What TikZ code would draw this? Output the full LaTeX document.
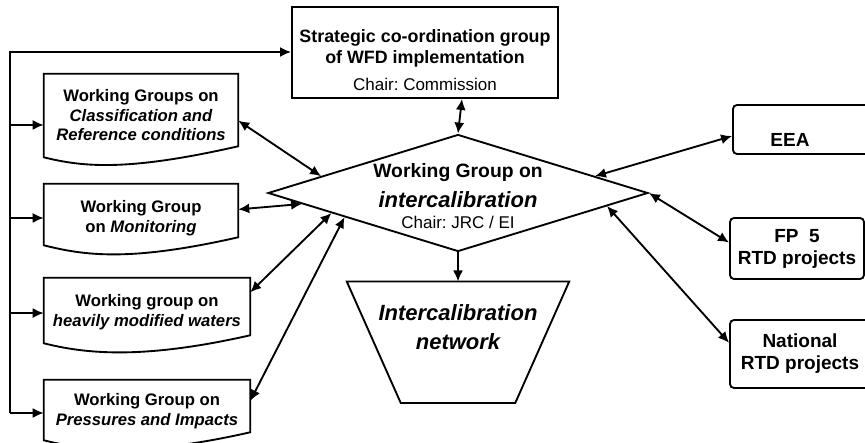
\documentclass[tikz,border=0pt]{standalone}
\usepackage{fontspec}
\setmainfont{Liberation Sans}
\usepackage{tikz}
\usetikzlibrary{positioning}
\usetikzlibrary{shapes,arrows.meta}
\frenchspacing
\tikzstyle{block} = [rectangle, draw, line width=1.4pt, text centered, align=center, inner sep=0pt]
\tikzstyle{doc} = [rectangle, text centered, align=center, inner sep=0pt,
                font=\fontsize{12.5}{14.6}\selectfont\bfseries]
\tikzstyle{partner} = [rectangle, draw, line width=1.4pt, rounded corners=3pt, align=center,
                inner sep=0pt, font=\fontsize{14.25}{16.5}\selectfont\bfseries]
\tikzstyle{decision} = [diamond, draw, line width=1.4pt, align=center, inner xsep=0pt,
                inner ysep=-18pt, shape aspect=3.25, minimum width=285pt, minimum height=87.75pt]
\tikzstyle{outline} = [draw, line width=1.4pt]
\tikzstyle{line} = [draw, line width=1.4pt, -{Latex[length=8.25pt,width=7.5pt]}]
\tikzstyle{twoway} = [draw, line width=1.4pt, {Latex[length=8.25pt,width=7.5pt]}-{Latex[length=8.25pt,width=7.5pt]}]

\begin{document}
\begin{tikzpicture}[x=0.75pt, y=-0.75pt]
\useasboundingbox (0,0) rectangle (865,443);
\node[block, minimum width=199.5pt, minimum height=68.25pt, text height=56.25pt, text depth=0pt,
  font=\fontsize{13.4}{16}\selectfont\bfseries] (sgc) at (425,52.5)
  {Strategic co-ordination group\\ of WFD implementation\\[4pt]
   {\fontsize{12.75}{15}\selectfont\mdseries Chair: Commission}};
\node[decision, text height=52.5pt, text depth=0pt, font=\fontsize{12.75}{14.25}\selectfont]
  (wgic) at (458,193)
  {{\fontsize{14.5}{17}\selectfont\bfseries Working Group on}\\[6pt]
   {\fontsize{16.5}{19}\selectfont\bfseries\itshape intercalibration}\\[1.5pt]
   Chair: JRC / EI};
\node[rectangle, align=center, inner sep=0pt, minimum width=166.5pt, minimum height=90.75pt,
  text height=11.25pt, text depth=0pt,
  font=\fontsize{16.5}{21.75}\selectfont\bfseries\itshape, below=21.75pt of wgic] (net)
  {Intercalibration\\ network};
\node[doc, minimum width=145.5pt, minimum height=62.25pt] (wgclass) at (141,115.5)
  {Working Groups on\\ {\itshape Classification and}\\ {\itshape Reference conditions}};
\node[doc, minimum width=145.5pt, minimum height=45.75pt, text height=26.25pt, text depth=0pt]
  (wgmon) at (141,214.5) {Working Group\\ on {\itshape Monitoring}};
\node[doc, minimum width=154.5pt, minimum height=48.75pt, text height=23.25pt, text depth=0pt]
  (wghmw) at (147,310.5) {Working group on\\ {\itshape heavily modified waters}};
\node[doc, minimum width=154.5pt, minimum height=45pt, text height=22.5pt, text depth=0pt]
  (wgpress) at (147,410) {Working Group on\\ {\itshape Pressures and Impacts}};
\node[partner, minimum width=110.25pt, minimum height=36.75pt] (eea) at (806.5,129.5)
  {\raisebox{-12.4pt}[0pt][0pt]{EEA}\hspace*{24.75pt}};
\node[partner, minimum width=100.5pt, minimum height=45.75pt] (fp) at (797,248.5)
  {FP~~5\\ RTD projects};
\node[partner, minimum width=105pt, minimum height=51pt] (nat) at (800,354)
  {National\\ RTD projects};
\foreach \n/\s in {wgclass/8.25, wgmon/6, wghmw/6, wgpress/6}
  \draw[outline] (\n.north west) -- (\n.north east) -- ([yshift=\s pt]\n.south east)
    .. controls +(-110,25) and +(40,10) .. (\n.south west) -- cycle;
\draw[outline] (net.north west) -- (net.north east) -- ([xshift=-40.5pt]net.south east)
  -- ([xshift=40.5pt]net.south west) -- cycle;
\coordinate (spinetop) at (10,52);
\coordinate (spinebot) at (10,413);
\path[line] (spinebot) -- (spinetop) -- (spinetop -| sgc.west);
\foreach \n/\dy in {wgclass/-7.1, wgmon/-2.6, wghmw/-1.9, wgpress/-2.25}
  \path[line] ([yshift=\dy pt]\n.west) ++(-34,0) -- ([yshift=\dy pt]\n.west);
\path[line] (wgic.south) -- (net.north);
\path[twoway] (wgic.north) -- ([xshift=3pt]wgic.north |- sgc.south);
\path[twoway] (wgclass.-3) -- (wgic.173);
\path[twoway] (wgmon.3) -- (wgic.184);
\path[twoway] (wghmw.10) -- (wgic.189);
\path[twoway] (wgpress.5) -- (wgic.192);
\path[twoway] (wgic.7) -- (eea.185);
\path[twoway] (wgic.east) -- (fp.175);
\path[twoway] (wgic.355) -- (nat.171);
\end{tikzpicture}
\end{document}
